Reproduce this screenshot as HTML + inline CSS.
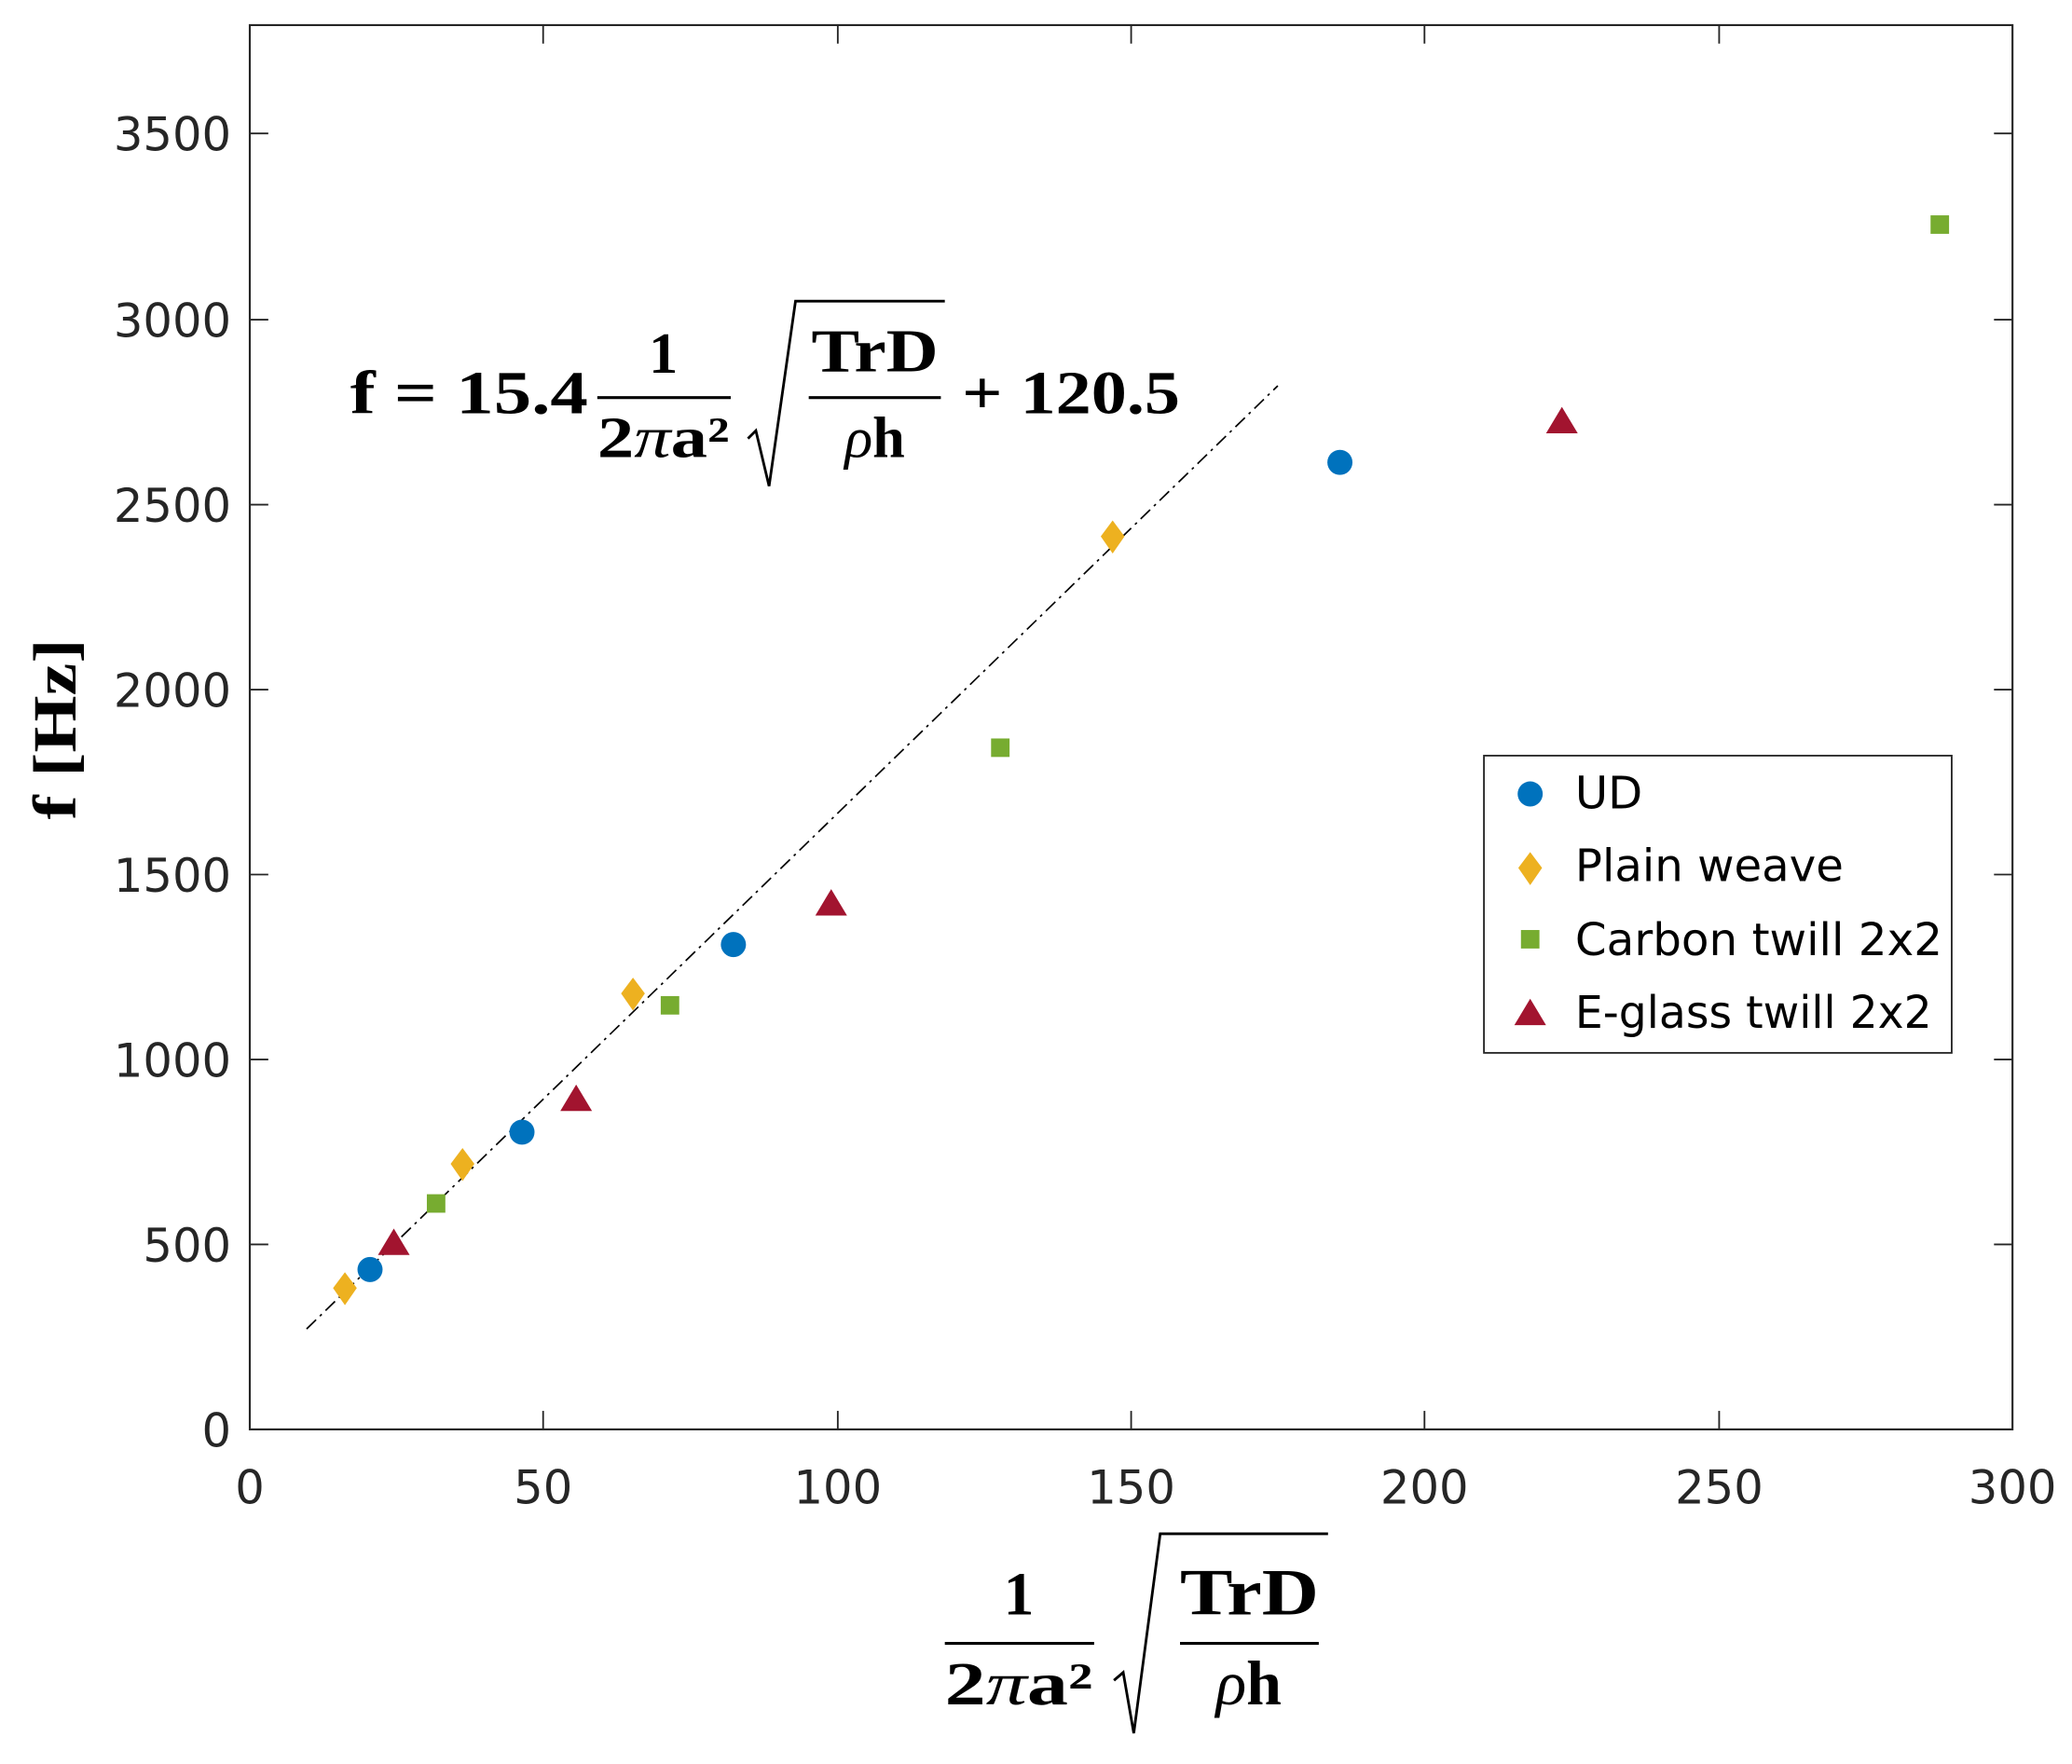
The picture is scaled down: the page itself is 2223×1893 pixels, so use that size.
<!DOCTYPE html>
<html><head><meta charset="utf-8"><style>
html,body{margin:0;padding:0;background:#fff;}
svg{display:block;}
.t{font-family:"DejaVu Sans","Liberation Sans",sans-serif;font-size:35px;fill:#262626;}
.m{font-family:"Liberation Serif",serif;font-weight:bold;fill:#000;}
.l{font-family:"DejaVu Sans","Liberation Sans",sans-serif;font-size:34px;fill:#000;}
</style></head><body>
<svg width="2223" height="1893" viewBox="0 0 1568 1335.3" xmlns="http://www.w3.org/2000/svg">
<rect x="0" y="0" width="1568" height="1336" fill="#fff"/>
<rect x="189" y="19" width="1334" height="1063" fill="none" stroke="#262626" stroke-width="1.5"/>
<g stroke="#262626" stroke-width="1.3">
<line x1="189" y1="1082" x2="203" y2="1082"/><line x1="1523" y1="1082" x2="1509" y2="1082"/>
<line x1="189" y1="942" x2="203" y2="942"/><line x1="1523" y1="942" x2="1509" y2="942"/>
<line x1="189" y1="802" x2="203" y2="802"/><line x1="1523" y1="802" x2="1509" y2="802"/>
<line x1="189" y1="662" x2="203" y2="662"/><line x1="1523" y1="662" x2="1509" y2="662"/>
<line x1="189" y1="522" x2="203" y2="522"/><line x1="1523" y1="522" x2="1509" y2="522"/>
<line x1="189" y1="382" x2="203" y2="382"/><line x1="1523" y1="382" x2="1509" y2="382"/>
<line x1="189" y1="242" x2="203" y2="242"/><line x1="1523" y1="242" x2="1509" y2="242"/>
<line x1="189" y1="101" x2="203" y2="101"/><line x1="1523" y1="101" x2="1509" y2="101"/>
<line x1="411" y1="1082" x2="411" y2="1068"/><line x1="411" y1="19" x2="411" y2="33"/>
<line x1="634" y1="1082" x2="634" y2="1068"/><line x1="634" y1="19" x2="634" y2="33"/>
<line x1="856" y1="1082" x2="856" y2="1068"/><line x1="856" y1="19" x2="856" y2="33"/>
<line x1="1078" y1="1082" x2="1078" y2="1068"/><line x1="1078" y1="19" x2="1078" y2="33"/>
<line x1="1301" y1="1082" x2="1301" y2="1068"/><line x1="1301" y1="19" x2="1301" y2="33"/>
</g>
<g class="t" text-anchor="end">
<text x="175" y="1095">0</text><text x="175" y="955">500</text><text x="175" y="815">1000</text>
<text x="175" y="675">1500</text><text x="175" y="535">2000</text><text x="175" y="395">2500</text>
<text x="175" y="255">3000</text><text x="175" y="114">3500</text>
</g>
<g class="t" text-anchor="middle">
<text x="189" y="1138">0</text><text x="411" y="1138">50</text><text x="634" y="1138">100</text>
<text x="856" y="1138">150</text><text x="1078" y="1138">200</text><text x="1301" y="1138">250</text><text x="1523" y="1138">300</text>
</g>
<line x1="232" y1="1006" x2="967" y2="292" stroke="#000" stroke-width="1.2" stroke-dasharray="10,4,2,4"/>
<g class="m">
<text x="265" y="313" font-size="46" textLength="180" lengthAdjust="spacingAndGlyphs">f = 15.4</text>
<text x="502" y="282" font-size="44" text-anchor="middle">1</text>
<line x1="452" y1="301" x2="553" y2="301" stroke="#000" stroke-width="2.2"/>
<text x="452" y="346" font-size="44" textLength="100" lengthAdjust="spacingAndGlyphs">2<tspan font-style="italic" font-weight="normal">π</tspan>a²</text>
<path d="M566 332 L572 326 L582 368 L602 228 L715 228" fill="none" stroke="#000" stroke-width="2"/>
<text x="614" y="281" font-size="46" textLength="96" lengthAdjust="spacingAndGlyphs">TrD</text>
<line x1="612" y1="301" x2="712" y2="301" stroke="#000" stroke-width="2.2"/>
<text x="662" y="346" font-size="44" text-anchor="middle"><tspan font-style="italic" font-weight="normal">ρ</tspan>h</text>
<text x="728" y="313" font-size="46" textLength="165" lengthAdjust="spacingAndGlyphs">+ 120.5</text>
</g>
<g class="m">
<text x="771" y="1222" font-size="46" text-anchor="middle">1</text>
<line x1="715" y1="1244" x2="828" y2="1244" stroke="#000" stroke-width="2.2"/>
<text x="715" y="1290" font-size="46" textLength="112" lengthAdjust="spacingAndGlyphs">2<tspan font-style="italic" font-weight="normal">π</tspan>a²</text>
<path d="M843 1272 L850 1266 L858 1312 L878 1161 L1005 1161" fill="none" stroke="#000" stroke-width="2"/>
<text x="893" y="1222" font-size="50" textLength="105" lengthAdjust="spacingAndGlyphs">TrD</text>
<line x1="893" y1="1244" x2="998" y2="1244" stroke="#000" stroke-width="2.2"/>
<text x="945" y="1290" font-size="48" text-anchor="middle"><tspan font-style="italic" font-weight="normal">ρ</tspan>h</text>
</g>
<text class="m" font-size="46" transform="translate(57,552) rotate(-90)" text-anchor="middle" textLength="137" lengthAdjust="spacingAndGlyphs">f [Hz]</text>
<g fill="#0072BD">
<circle cx="280" cy="961" r="9.5"/><circle cx="395" cy="857" r="9.5"/><circle cx="555" cy="715" r="9.5"/><circle cx="1014" cy="350" r="9.5"/>
</g>
<g fill="#EDB120">
<path d="M261 963 L270 975 L261 988 L252 975Z"/><path d="M350 869 L359 881 L350 894 L341 881Z"/>
<path d="M479 740 L488 752 L479 765 L470 752Z"/><path d="M842 394 L851 406 L842 419 L833 406Z"/>
</g>
<g fill="#77AC30">
<rect x="323" y="904" width="14" height="14"/><rect x="500" y="754" width="14" height="14"/>
<rect x="750" y="559" width="14" height="14"/><rect x="1461" y="163" width="14" height="14"/>
</g>
<g fill="#A2142F">
<path d="M298 930 L310 950 L286 950Z"/><path d="M436 821 L448 841 L424 841Z"/>
<path d="M629 673 L641 693 L617 693Z"/><path d="M1182 308 L1194 328 L1170 328Z"/>
</g>
<rect x="1123" y="572" width="354" height="225" fill="#fff" stroke="#262626" stroke-width="1.3"/>
<circle cx="1158" cy="601" r="9.5" fill="#0072BD"/>
<path d="M1158 645 L1167 657 L1158 670 L1149 657Z" fill="#EDB120"/>
<rect x="1151" y="704" width="14" height="14" fill="#77AC30"/>
<path d="M1158 756 L1170 776 L1146 776Z" fill="#A2142F"/>
<g class="l">
<text x="1192" y="612">UD</text>
<text x="1192" y="667">Plain weave</text>
<text x="1192" y="723" textLength="278" lengthAdjust="spacingAndGlyphs">Carbon twill 2x2</text>
<text x="1192" y="778" textLength="270" lengthAdjust="spacingAndGlyphs">E-glass twill 2x2</text>
</g>
</svg>
</body></html>
